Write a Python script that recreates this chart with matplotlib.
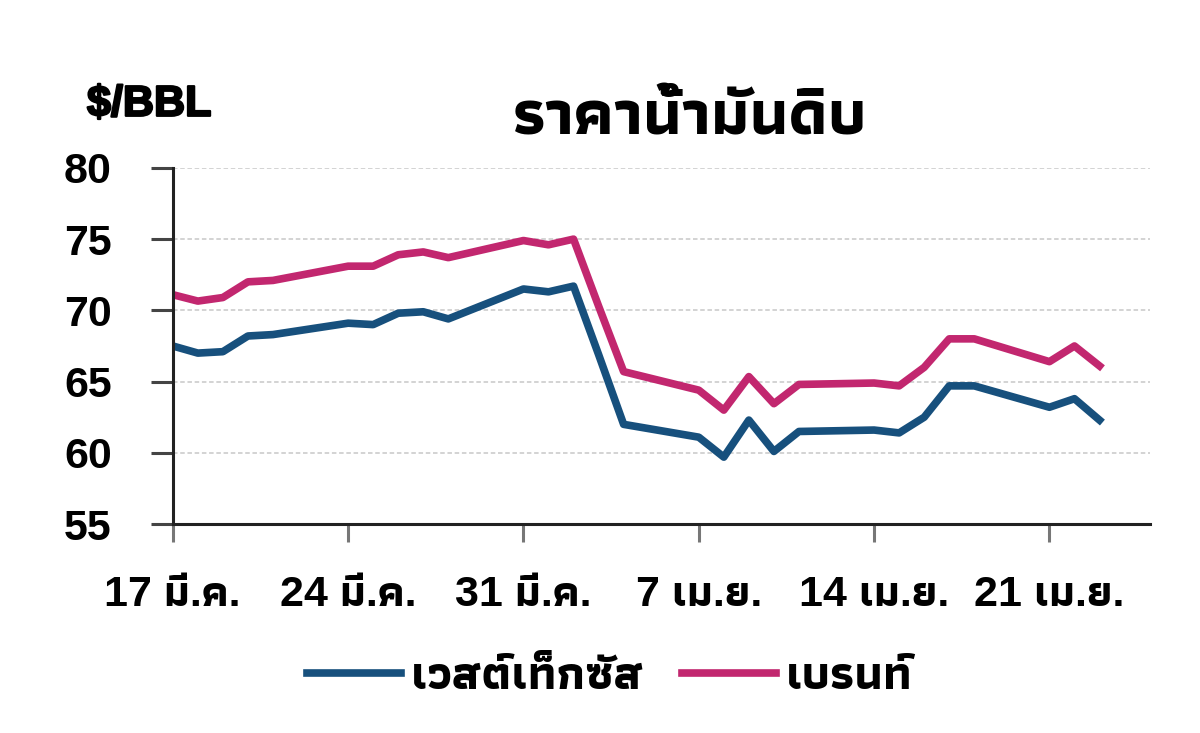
import datetime as dt
import matplotlib
matplotlib.use("Agg")
import matplotlib.pyplot as plt
import matplotlib.patheffects as pe

plt.rcParams['font.family'] = ['Liberation Sans', 'Athiti', 'DejaVu Sans']
plt.rcParams['font.weight'] = 'bold'

# วันที่ซื้อขาย (2025)
dates = [
    "2025-03-17", "2025-03-18", "2025-03-19", "2025-03-20", "2025-03-21",
    "2025-03-24", "2025-03-25", "2025-03-26", "2025-03-27", "2025-03-28",
    "2025-03-31", "2025-04-01", "2025-04-02", "2025-04-03", "2025-04-04",
    "2025-04-07", "2025-04-08", "2025-04-09", "2025-04-10", "2025-04-11",
    "2025-04-14", "2025-04-15", "2025-04-16", "2025-04-17", "2025-04-18",
    "2025-04-21", "2025-04-22", "2025-04-23",
]
wti = [67.5, 67.0, 67.1, 68.2, 68.3, 69.1, 69.0, 69.8, 69.9, 69.4,
       71.5, 71.3, 71.7, 66.9, 62.0, 61.1, 59.7, 62.3, 60.1, 61.5,
       61.6, 61.4, 62.5, 64.7, 64.7, 63.2, 63.8, 62.3]
brent = [71.1, 70.65, 70.9, 72.0, 72.1, 73.1, 73.1, 73.9, 74.1, 73.7,
         74.9, 74.6, 75.0, 70.3, 65.7, 64.4, 63.0, 65.35, 63.45, 64.8,
         64.9, 64.7, 66.0, 68.0, 68.0, 66.4, 67.5, 66.1]

tick_dates = ["2025-03-17", "2025-03-24", "2025-03-31", "2025-04-07", "2025-04-14", "2025-04-21"]
tick_labels = ["17 มี.ค.", "24 มี.ค.", "31 มี.ค.", "7 เม.ย.", "14 เม.ย.", "21 เม.ย."]
y_ticks = [55, 60, 65, 70, 75, 80]

x = [dt.datetime.strptime(d, "%Y-%m-%d") for d in dates]
xt = [dt.datetime.strptime(d, "%Y-%m-%d") for d in tick_dates]

fig = plt.figure(figsize=(12, 7.33), dpi=100)
ax = fig.add_axes([0.144, 0.285, 0.814, 0.486])

# เส้นกริดประ
for yv in y_ticks[1:]:
    ax.axhline(yv, color='#d0d0d0', lw=1.3, ls=(0, (2.5, 1.5)), zorder=0)

ax.plot(x, wti, color='#17507d', lw=5.5, label='เวสต์เท็กซัส', solid_joinstyle='round')
ax.plot(x, brent, color='#c2276f', lw=5.5, label='เบรนท์', solid_joinstyle='round')

ax.set_ylim(55, 80)
ax.set_yticks(y_ticks)
ax.set_xlim(dt.datetime(2025, 3, 17), dt.datetime(2025, 4, 25))
ax.set_xticks(xt)
ax.set_xticklabels(tick_labels)

for s in ['top', 'right']:
    ax.spines[s].set_visible(False)
for s in ['left', 'bottom']:
    ax.spines[s].set_color('#222222')
    ax.spines[s].set_linewidth(2.2)

ax.tick_params(axis='y', length=16, width=2.2, color='#444444', pad=28, labelsize=31)
ax.tick_params(axis='x', length=13, width=2.2, color='#777777', pad=24, labelsize=31)

fig.text(0.575, 0.816, 'ราคาน้ำมันดิบ', ha='center', va='baseline', fontsize=46, fontweight='bold')
fig.text(0.0725, 0.842, r'\$/BBL', ha='left', va='baseline', fontsize=31, fontweight='bold',
         path_effects=[pe.withStroke(linewidth=1.6, foreground='black')])

fig.legend(loc='center', bbox_to_anchor=(0.508, 0.076), ncol=2, frameon=False,
           fontsize=34, handlelength=2.0, handletextpad=0.2, columnspacing=0.8)

fig.savefig("out.png")
